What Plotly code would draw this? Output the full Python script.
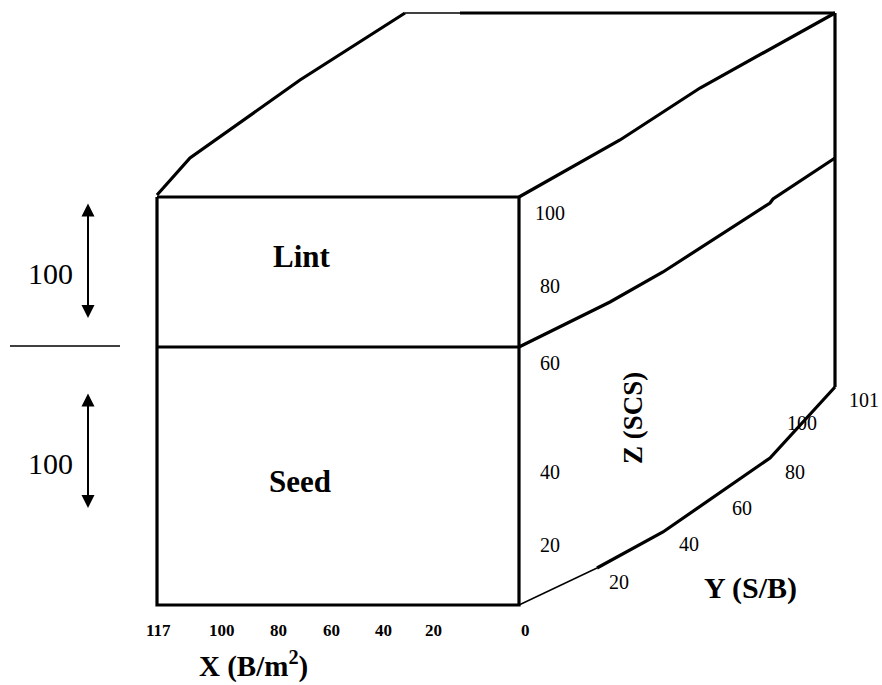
import plotly.graph_objects as go

# ---- data (labels / values) ----
x_tick_labels = ["117", "100", "80", "60", "40", "20", "0"]
z_tick_labels = ["100", "80", "60", "40", "20"]
y_tick_labels = ["20", "40", "60", "80", "100", "101"]
layer_names = ["Lint", "Seed"]
layer_heights = ["100", "100"]
x_title = "X (B/m<sup>2</sup>)"
y_title = "Y (S/B)"
z_title = "Z (SCS)"

# ---- schematic geometry (pixel frame of the drawing) ----
W, H = 882, 685
FONT = "Liberation Serif"

thick_paths = [
    [(157, 197), (519, 197), (519, 605), (157, 605), (157, 197)],
    [(157, 347), (519, 347)],
    [(157, 195), (190, 158), (300, 80), (405, 13)],
    [(460, 13), (835, 13)],
    [(519, 197), (620, 140), (700, 88), (835, 13)],
    [(835, 13), (835, 387)],
    [(519, 347), (610, 302), (663, 272), (770, 203), (773, 199), (835, 158)],
    [(597, 568), (663, 532), (770, 458), (835, 387)],
]
thin_paths = [
    [(405, 13), (460, 13)],
    [(519, 605), (597, 568)],
    [(10, 346), (120, 346)],
]

fig = go.Figure()
for paths, w in ((thick_paths, 3.2), (thin_paths, 1.4)):
    for p in paths:
        fig.add_trace(go.Scatter(
            x=[q[0] for q in p], y=[q[1] for q in p], mode="lines",
            line=dict(color="black", width=w), hoverinfo="skip", showlegend=False))

ann = []
def txt(x, y, s, size, bold=False, angle=0):
    ann.append(dict(x=x, y=y, xref="x", yref="y", text=f"<b>{s}</b>" if bold else s,
                    showarrow=False, textangle=angle,
                    font=dict(family=FONT, size=size, color="black")))

x_pos = [158, 222, 278, 331, 383, 433, 525]
for xp, lab in zip(x_pos, x_tick_labels):
    txt(xp, 630, lab, 17, bold=True)
txt(253, 664, x_title, 29, bold=True)

z_pos = [213, 286, 363, 472, 545]
for yp, lab in zip(z_pos, z_tick_labels):
    txt(550, yp, lab, 20)
txt(633, 418, z_title, 27, bold=True, angle=-90)

y_pos = [(619, 582), (689, 544), (742, 508), (795, 472), (802, 423), (864, 400)]
for (xp, yp), lab in zip(y_pos, y_tick_labels):
    txt(xp, yp, lab, 20)
txt(750, 588, y_title, 30, bold=True)

txt(302, 256, layer_names[0], 31, bold=True)
txt(300, 481, layer_names[1], 31, bold=True)

txt(50, 273, layer_heights[0], 30)
txt(50, 463, layer_heights[1], 30)
for y0, y1 in ((202, 318), (392, 508)):
    ann.append(dict(x=88, y=y1, ax=88, ay=y0, xref="x", yref="y", axref="x", ayref="y",
                    text="", showarrow=True, arrowhead=2, arrowside="end+start",
                    arrowsize=1.3, arrowwidth=2, arrowcolor="black"))

fig.update_layout(
    width=W, height=H, margin=dict(l=0, r=0, t=0, b=0),
    paper_bgcolor="white", plot_bgcolor="white",
    xaxis=dict(range=[0, W], visible=False, fixedrange=True),
    yaxis=dict(range=[H, 0], visible=False, fixedrange=True),
    annotations=ann, showlegend=False,
)
fig.write_html(
    "out.html",
    config={"displayModeBar": False},
    post_script="document.body.style.margin='0';document.body.style.overflow='hidden';",
)
